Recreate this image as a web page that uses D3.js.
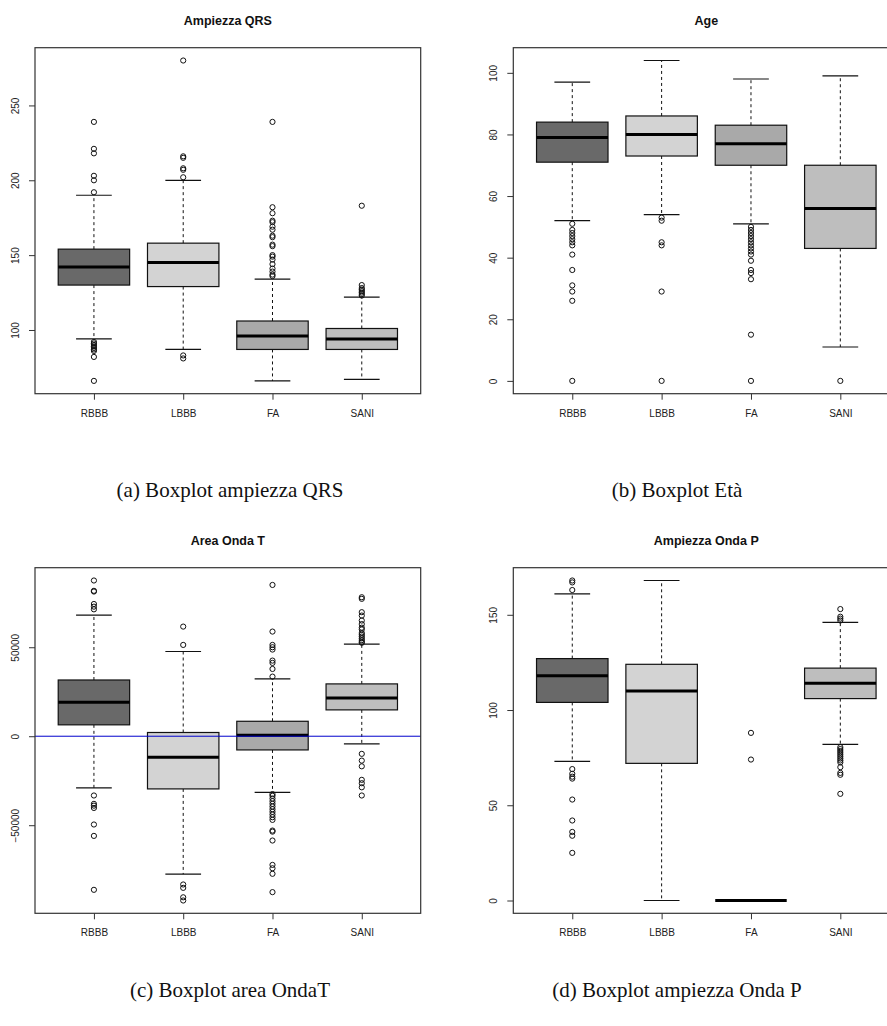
<!DOCTYPE html>
<html>
<head>
<meta charset="utf-8">
<script src="https://cdn.jsdelivr.net/npm/d3@7"></script>
<style>
  body { margin: 0; background: #fff; }
  svg { display: block; }
  .tick text { font-family: "Liberation Sans", Arial, sans-serif; font-size: 10px; fill: #222; }
  .tick line { stroke: #333; }
  .title { font-family: "Liberation Sans", Arial, sans-serif; font-size: 12.5px; font-weight: bold; fill: #111; }
  .caption { font-family: "Liberation Serif", "Times New Roman", serif; font-size: 21px; fill: #111; }
</style>
</head>
<body>
<div id="chart"></div>
<script>
// groups on the x axis of every panel
const groups = ["RBBB", "LBBB", "FA", "SANI"];

// box stats per group: [lower whisker, Q1, median, Q3, upper whisker]
const qrsStats = [
  [94, 130, 142, 154, 190],
  [87, 129, 145, 158, 200],
  [66, 87, 96, 106, 134],
  [67, 87, 94, 101, 122]
];
const qrsOutliers = [
  [239, 221, 218, 203, 200, 192, 92, 91, 90, 89, 88, 87, 86, 82, 66],
  [280, 216, 215, 208, 207, 202, 83, 81],
  [239, 182, 178, 173, 172, 169, 167, 163, 162, 157, 156, 150, 149, 147, 144, 141, 139, 137, 136],
  [183, 130, 128, 127, 126, 125, 124, 123]
];
const qrsTicks = [100, 150, 200, 250];

const ageStats = [
  [52, 71, 79, 84, 97],
  [54, 73, 80, 86, 104],
  [51, 70, 77, 83, 98],
  [11, 43, 56, 70, 99]
];
const ageOutliers = [
  [51, 49, 48, 47, 46, 45, 44, 41, 36, 31, 29, 26, 0],
  [53, 52, 45, 44, 29, 0],
  [50, 49, 48, 47, 46, 45, 44, 43, 42, 41, 39, 36, 35, 33, 15, 0],
  [0]
];
const ageTicks = [0, 20, 40, 60, 80, 100];

const areaStats = [
  [-29000, 6400, 19100, 31600, 68000],
  [-77500, -29600, -11800, 2100, 47600],
  [-31600, -7700, 600, 8400, 32200],
  [-4300, 14800, 21500, 29400, 51700]
];
const areaOutliers = [
  [87500, 81700, 81300, 74300, 72800, 71300, -33300, -38000, -39000, -40300, -49600, -56000, -86300],
  [61600, 51300, -83300, -85200, -90500, -92300],
  [85000, 58800, 51300, 50000, 48700, 42500, 41200, 37800, 33500, -32500, -33500, -35000, -36500,
   -38000, -39500, -41000, -42500, -44000, -45500, -47000, -53000, -53600, -58600, -72300, -74200,
   -77300, -87600],
  [78100, 77200, 69700, 67800, 65000, 63000, 61000, 60000, 58000, 57000, 56000, 55000, 54000, 53000,
   52500, -9900, -13700, -16900, -24500, -26400, -28700, -33300]
];
const areaTicks = [-50000, 0, 50000];
const areaRefLine = 0;

const pStats = [
  [73, 104, 118, 127, 161],
  [0, 72, 110, 124, 168],
  [0, 0, 0, 0, 0],
  [82, 106, 114, 122, 146]
];
const pOutliers = [
  [168, 167, 163, 69, 66.5, 65, 64, 53, 42, 36, 34, 25],
  [],
  [88, 74],
  [153, 149, 148, 147, 80.5, 79.5, 78.5, 77.5, 76.5, 75.5, 74.5, 73.5, 72.5, 70, 67, 66, 56]
];
const pTicks = [0, 50, 100, 150];

const titles = ["Ampiezza QRS", "Age", "Area Onda T", "Ampiezza Onda P"];
const captions = ["(a) Boxplot ampiezza QRS", "(b) Boxplot Età", "(c) Boxplot area OndaT", "(d) Boxplot ampiezza Onda P"];

const fills = ["#696969", "#d3d3d3", "#a9a9a9", "#bebebe"];

const W = 887, H = 1026;

const svg = d3.select("#chart").append("svg")
  .attr("width", W)
  .attr("height", H);

svg.append("rect").attr("width", W).attr("height", H).attr("fill", "#fff");

// plot areas (the right column runs past the picture edge, as in the source)
const panels = [
  { stats: qrsStats, out: qrsOutliers, ticks: qrsTicks, box: [35, 47.7, 420.7, 393.7], capX: 230, capY: 497 },
  { stats: ageStats, out: ageOutliers, ticks: ageTicks, box: [513.3, 47.7, 899.3, 393.7], capX: 677, capY: 497 },
  { stats: areaStats, out: areaOutliers, ticks: areaTicks, box: [35, 567.7, 420.7, 913.3], capX: 230, capY: 997, ref: areaRefLine },
  { stats: pStats, out: pOutliers, ticks: pTicks, box: [513.3, 567.7, 899.3, 913.3], capX: 677, capY: 997 }
];

panels.forEach((p, i) => {
  const [x0, y0, x1, y1] = p.box;
  const g = svg.append("g");

  // y range like R: data extent widened by 4% on each side
  const all = p.stats.flat().concat(p.out.flat());
  const lo = d3.min(all), hi = d3.max(all);
  const pad = (hi - lo) * 0.04;

  const y = d3.scaleLinear().domain([lo - pad, hi + pad]).range([y1, y0]);
  const x = d3.scalePoint().domain(groups).range([x0, x1]).padding(0.66);
  const step = x.step();
  const bw = step * 0.8;

  // title
  g.append("text")
    .attr("class", "title")
    .attr("x", (x0 + x1) / 2)
    .attr("y", y0 - 23)
    .attr("text-anchor", "middle")
    .text(titles[i]);

  // y axis
  const ya = g.append("g")
    .attr("transform", `translate(${x0},0)`)
    .call(d3.axisLeft(y).tickValues(p.ticks).tickSize(6).tickFormat(d3.format("d")));
  ya.select(".domain").remove();
  ya.selectAll(".tick text")
    .attr("transform", "rotate(-90)")
    .attr("x", 0)
    .attr("y", -20)
    .attr("dy", null)
    .attr("dominant-baseline", "central")
    .attr("text-anchor", "middle");

  // x axis
  const xa = g.append("g")
    .attr("transform", `translate(0,${y1})`)
    .call(d3.axisBottom(x).tickSize(6));
  xa.select(".domain").remove();
  xa.selectAll(".tick text").attr("y", 16);

  // boxes
  const grp = g.selectAll(".grp")
    .data(groups.map((name, k) => ({ name, s: p.stats[k], out: p.out[k], k })))
    .join("g")
    .attr("class", "grp");

  // dashed whiskers
  grp.append("line")
    .attr("x1", d => x(d.name)).attr("x2", d => x(d.name))
    .attr("y1", d => y(d.s[3])).attr("y2", d => y(d.s[4]))
    .attr("stroke", "#111").attr("stroke-dasharray", "3,3");
  grp.append("line")
    .attr("x1", d => x(d.name)).attr("x2", d => x(d.name))
    .attr("y1", d => y(d.s[1])).attr("y2", d => y(d.s[0]))
    .attr("stroke", "#111").attr("stroke-dasharray", "3,3");

  // whisker caps
  [0, 4].forEach(j => {
    grp.append("line")
      .attr("x1", d => x(d.name) - bw / 4).attr("x2", d => x(d.name) + bw / 4)
      .attr("y1", d => y(d.s[j])).attr("y2", d => y(d.s[j]))
      .attr("stroke", "#111").attr("stroke-width", 1.2);
  });

  grp.append("rect")
    .attr("x", d => x(d.name) - bw / 2)
    .attr("width", bw)
    .attr("y", d => y(d.s[3]))
    .attr("height", d => y(d.s[1]) - y(d.s[3]))
    .attr("fill", (d, k) => fills[k])
    .attr("stroke", "#111")
    .attr("stroke-width", 1.2);

  // median
  grp.append("line")
    .attr("x1", d => x(d.name) - bw / 2).attr("x2", d => x(d.name) + bw / 2)
    .attr("y1", d => y(d.s[2])).attr("y2", d => y(d.s[2]))
    .attr("stroke", "#000").attr("stroke-width", 3);

  // outliers
  grp.selectAll("circle")
    .data(d => d.out.map(v => ({ name: d.name, v })))
    .join("circle")
    .attr("cx", d => x(d.name))
    .attr("cy", d => y(d.v))
    .attr("r", 2.6)
    .attr("fill", "none")
    .attr("stroke", "#111")
    .attr("stroke-width", 1);

  // reference line (abline at 0)
  if (p.ref !== undefined) {
    g.append("line")
      .attr("x1", x0).attr("x2", x1)
      .attr("y1", y(p.ref)).attr("y2", y(p.ref))
      .attr("stroke", "#0000cc").attr("stroke-width", 1);
  }

  // frame
  g.append("rect")
    .attr("x", x0).attr("y", y0)
    .attr("width", x1 - x0).attr("height", y1 - y0)
    .attr("fill", "none")
    .attr("stroke", "#333")
    .attr("stroke-width", 1.2);

  // caption
  svg.append("text")
    .attr("class", "caption")
    .attr("x", p.capX)
    .attr("y", p.capY)
    .attr("text-anchor", "middle")
    .text(captions[i]);
});
</script>
</body>
</html>
